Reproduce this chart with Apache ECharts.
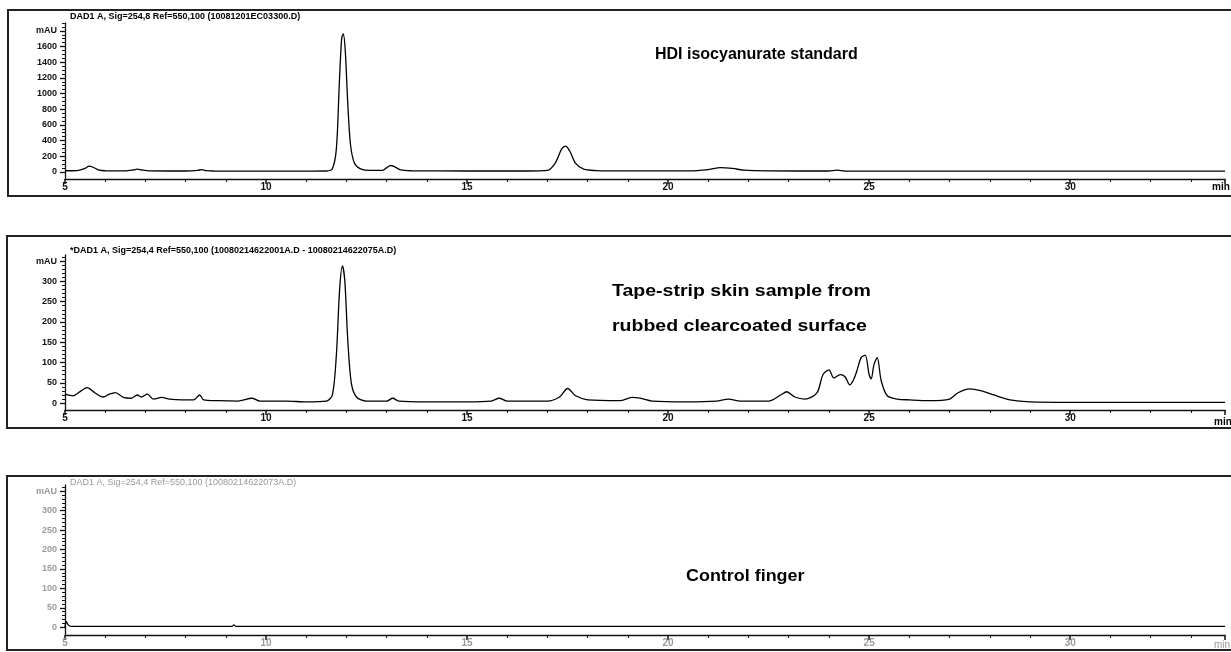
<!DOCTYPE html>
<html>
<head>
<meta charset="utf-8">
<script src="https://cdn.jsdelivr.net/npm/echarts@6/dist/echarts.min.js"></script>
<style>
html,body{margin:0;padding:0;background:#fff;}
#chart{width:1231px;height:652px;}
</style>
</head>
<body>
<div id="chart"></div>
<script>
// ---------- DATA ----------
const topTime = [5.0,5.3,5.5,5.6,5.7,5.85,6.0,6.5,6.7,6.8,6.9,7.1,8.0,8.3,8.4,8.5,8.7,10.0,11.0,11.5,11.65,11.75,11.82,11.88,11.92,11.97,12.03,12.1,12.2,12.35,12.6,12.9,13.0,13.1,13.2,13.35,13.6,15.0,16.5,17.0,17.2,17.35,17.45,17.55,17.7,17.9,18.2,19.0,20.5,21.0,21.3,21.6,21.9,22.5,24.0,24.2,24.4,26.0,30.0,33.85];
const topSignal = [15,18,45,75,60,22,15,14,25,35,25,13,12,20,30,18,12,10,10,12,40,300,1100,1700,1760,1550,900,350,110,40,20,20,55,82,65,25,15,12,12,20,120,290,330,270,110,35,18,13,14,30,55,45,22,14,12,22,12,10,10,10];

const midTime = [5.0,5.2,5.4,5.55,5.75,5.95,6.1,6.25,6.45,6.65,6.8,6.9,7.05,7.2,7.4,7.6,7.9,8.2,8.35,8.45,8.8,9.3,9.65,9.85,10.5,11.0,11.5,11.65,11.75,11.83,11.9,11.96,12.03,12.12,12.25,12.5,13.0,13.15,13.3,14.0,15.0,15.6,15.8,16.0,17.0,17.3,17.5,17.7,18.0,18.8,19.1,19.3,19.6,20.5,21.2,21.5,21.8,22.5,22.8,22.95,23.15,23.4,23.7,23.85,24.0,24.12,24.28,24.4,24.52,24.6,24.68,24.8,24.9,25.0,25.05,25.12,25.2,25.3,25.45,25.7,26.0,26.5,27.0,27.2,27.5,27.8,28.1,28.5,29.0,30.0,33.85];
const midSignal = [22,18,30,38,25,15,22,26,14,12,20,15,22,10,14,10,8,8,20,8,6,5,12,5,5,3,5,20,120,280,338,300,160,50,15,5,5,12,5,3,3,5,12,5,5,15,36,18,8,6,14,12,5,3,5,10,5,5,20,28,15,10,25,70,82,62,70,65,45,55,75,112,118,70,60,95,112,55,18,10,8,6,10,25,35,30,20,8,3,2,2];

const botTime = [5.0,5.03,5.08,5.15,7.0,9.15,9.2,9.25,12.0,20.0,33.85];
const botSignal = [0,15,6,2,2,2,6,2,2,2,2];

const topYLabels = [0,200,400,600,800,1000,1200,1400,1600];
const topUnitAt = 1800;
const midYLabels = [0,50,100,150,200,250,300];
const midUnitAt = 350;
const botYLabels = [0,50,100,150,200,250,300];
const botUnitAt = 350;

const titles = {
  top: 'HDI isocyanurate standard',
  mid1: 'Tape-strip skin sample from',
  mid2: 'rubbed clearcoated surface',
  bot: 'Control finger'
};
const headers = {
  top: 'DAD1 A, Sig=254,8 Ref=550,100 (10081201EC03300.D)',
  mid: '*DAD1 A, Sig=254,4 Ref=550,100 (10080214622001A.D - 10080214622075A.D)',
  bot: 'DAD1 A, Sig=254,4 Ref=550,100 (10080214622073A.D)'
};

// ---------- CHART ----------
const zip = (a, b) => a.map((v, i) => [v, b[i]]);
const range = (a, b, s) => { const r = []; for (let v = a; v <= b + 1e-9; v += s) r.push(v); return r; };

const FONT = '"Liberation Sans Narrow","Liberation Sans",Arial,sans-serif';
const grids = [
  {left: 65, right: 6, top: 23, height: 156, outerBoundsMode: 'none', containLabel: false},
  {left: 65, right: 6, top: 255, height: 155, outerBoundsMode: 'none', containLabel: false},
  {left: 65, right: 6, top: 485, height: 150, outerBoundsMode: 'none', containLabel: false}
];
const panelColor = ['#111', '#111', '#9a9a9a'];

function xAx(i){
  return {
    type: 'value', gridIndex: i, min: 5, max: 33.85, interval: 5,
    axisLine: {onZero: false, lineStyle: {color: '#111', width: 1.3}},
    axisTick: {show: true, length: 5, lineStyle: {color: '#111', width: 1.5}},
    minorTick: {show: true, splitNumber: 5, length: 3, lineStyle: {color: '#111', width: 1}},
    splitLine: {show: false},
    axisLabel: {
      showMaxLabel: false,
      formatter: v => (Math.abs(v % 5) < 1e-6 ? String(v) : ''),
      margin: 3, fontSize: 10, fontWeight: 'bold', fontFamily: FONT, color: panelColor[i]
    }
  };
}
function yAx(i, min, max, labels, unitAt, minorStep){
  return [{
    type: 'value', gridIndex: i, min: min, max: max, position: 'left',
    axisLine: {show: true, lineStyle: {color: '#111', width: 1.3}},
    axisTick: {show: true, length: 5, customValues: labels.concat([unitAt]), lineStyle: {color: '#111', width: 1.3}},
    splitLine: {show: false},
    axisLabel: {
      customValues: labels.concat([unitAt]),
      formatter: v => (v === unitAt ? 'mAU' : String(v)),
      margin: 8, fontSize: 9, fontWeight: 'bold', fontFamily: FONT, color: panelColor[i]
    }
  }, {
    type: 'value', gridIndex: i, min: min, max: max, position: 'left',
    axisLine: {show: false},
    axisTick: {show: true, length: 3, customValues: range(0, max, minorStep), lineStyle: {color: '#111', width: 1}},
    axisLabel: {show: false},
    splitLine: {show: false}
  }];
}

const yAxes = [].concat(
  yAx(0, -90, 1900, topYLabels, topUnitAt, 50),
  yAx(1, -17, 365, midYLabels, midUnitAt, 10),
  yAx(2, -20, 366, botYLabels, botUnitAt, 10)
);

function series(i, t, s){
  return {
    type: 'line', xAxisIndex: i, yAxisIndex: i * 2, data: zip(t, s),
    showSymbol: false, smooth: 0.3, animation: false,
    lineStyle: {color: '#000', width: 1.3}
  };
}

function text(x, y, str, opt, sx){
  return {type: 'text', x: x, y: y, scaleX: sx || 1,
    style: Object.assign({text: str, fill: '#000', font: 'bold 16px "Liberation Sans", Arial, sans-serif'}, opt || {})};
}
function frame(x, y, w, h){
  return {type: 'rect', shape: {x: x, y: y, width: w, height: h}, style: {fill: 'none', stroke: '#222', lineWidth: 2}};
}

const chart = echarts.init(document.getElementById('chart'), null, {renderer: 'canvas'});
chart.setOption({
  animation: false,
  backgroundColor: '#fff',
  grid: grids,
  xAxis: [xAx(0), xAx(1), xAx(2)],
  yAxis: yAxes,
  series: [series(0, topTime, topSignal), series(1, midTime, midSignal), series(2, botTime, botSignal)],
  graphic: [
    frame(8, 10, 1240, 186),
    frame(7, 236, 1240, 192),
    frame(7, 476, 1240, 174),
    text(70, 12, headers.top, {font: 'bold 9px ' + FONT}),
    text(70, 246, headers.mid, {font: 'bold 9px ' + FONT}),
    text(70, 478, headers.bot, {font: '9px ' + FONT, fill: '#999'}),
    text(655, 47, titles.top),
    text(612, 284, titles.mid1, null, 1.22),
    text(612, 319, titles.mid2, null, 1.22),
    text(686, 569, titles.bot, null, 1.12),
    text(1212, 182, 'min', {font: 'bold 10px ' + FONT}),
    text(1214, 417, 'min', {font: 'bold 10px ' + FONT}),
    text(1214, 640, 'min', {font: '10px ' + FONT, fill: '#999'})
  ]
});
</script>
</body>
</html>
